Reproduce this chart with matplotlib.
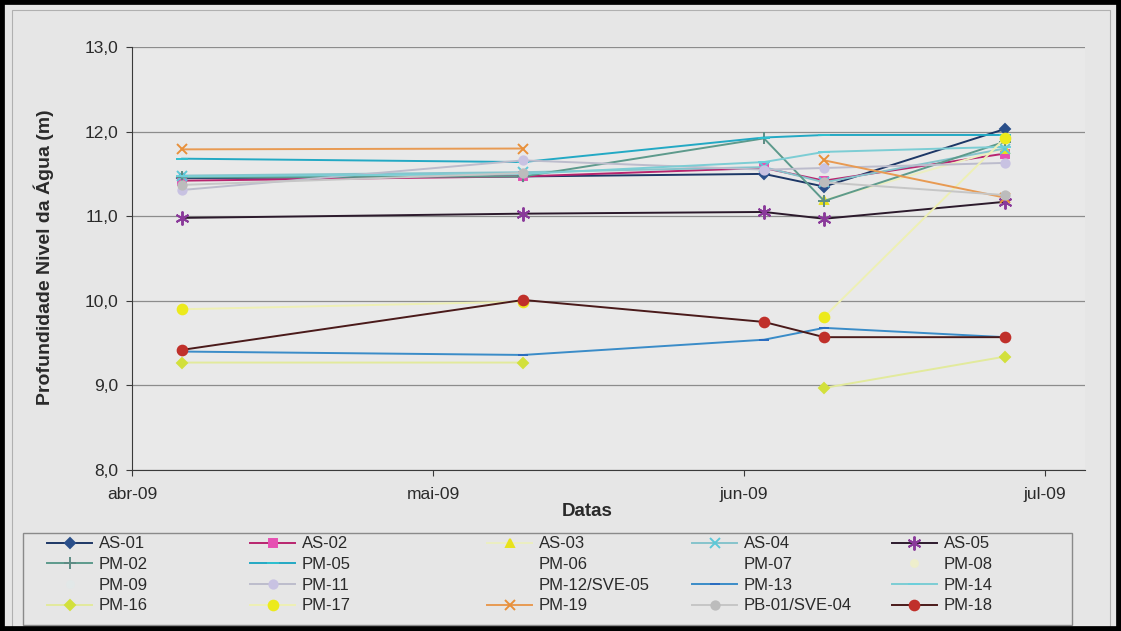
import datetime as dt
import numpy as np
import matplotlib
matplotlib.use("Agg")
import matplotlib.pyplot as plt
from matplotlib.patches import Rectangle

plt.rcParams['font.family'] = ['Liberation Sans', 'DejaVu Sans']

nan = np.nan

# measurement dates
dates = [dt.datetime(2009, 4, 6), dt.datetime(2009, 5, 10), dt.datetime(2009, 6, 3),
         dt.datetime(2009, 6, 9), dt.datetime(2009, 6, 27)]

# water level depth per well (m)
as01 = [11.45, 11.47, 11.50, 11.35, 12.03]
as02 = [11.42, 11.47, 11.57, 11.42, 11.74]
as03 = [nan, nan, nan, 11.19, 11.80]
as04 = [11.48, 11.52, 11.58, 11.40, 11.80]
as05 = [10.98, 11.03, 11.05, 10.97, 11.17]
pm02 = [11.46, 11.47, 11.92, 11.18, 11.88]
pm05 = [11.68, 11.64, 11.93, 11.96, 11.96]
pm06 = [nan, nan, nan, nan, nan]
pm07 = [nan, nan, nan, nan, nan]
pm08 = [nan, nan, nan, nan, nan]
pm09 = [nan, nan, nan, nan, nan]
pm11 = [11.31, 11.66, 11.55, 11.57, 11.63]
pm12 = [nan, nan, nan, nan, nan]
pm13 = [9.40, 9.36, 9.54, 9.68, 9.57]
pm14 = [11.47, 11.50, 11.64, 11.76, 11.82]
pm16 = [9.27, 9.27, nan, 8.97, 9.34]
pm17 = [9.90, 9.99, nan, 9.81, 11.92]
pm19 = [11.79, 11.80, nan, 11.66, 11.22]
pb01 = [11.37, 11.51, nan, 11.40, 11.25]
pm18 = [9.42, 10.01, 9.75, 9.57, 9.57]

month_ticks = [dt.datetime(2009, 4, 1), dt.datetime(2009, 5, 1),
               dt.datetime(2009, 6, 1), dt.datetime(2009, 7, 1)]
month_labels = ["abr-09", "mai-09", "jun-09", "jul-09"]
y_ticks = [8.0, 9.0, 10.0, 11.0, 12.0, 13.0]

bg = "#e6e6e6"
W, H = 1121, 631
fig = plt.figure(figsize=(W / 100, H / 100), dpi=100, facecolor=bg)
ax = fig.add_axes([132 / W, 1 - 470 / H, (1085 - 132) / W, (470 - 47) / H])
ax.set_facecolor("#e9e9e9")

asterisk = (6, 2, 0)
# (label, data, line color, marker, marker face, marker size)
series = [
    ("AS-01", as01, "#1d3766", "D", "#2a4f8a", 5),
    ("AS-02", as02, "#b8246e", "s", "#e64fb2", 6),
    ("AS-03", as03, "#ecefc0", "^", "#e8e21a", 6),
    ("AS-04", as04, "#86c4cc", "x", "#5cc8d8", 7),
    ("AS-05", as05, "#2c1a2c", asterisk, "#8a3a9a", 10),
    ("PM-02", pm02, "#5d9a8c", "+", "#5d8c84", 8),
    ("PM-05", pm05, "#23a9c4", "_", "#2fc0d0", 8),
    ("PM-06", pm06, "none", "None", "none", 6),
    ("PM-07", pm07, "none", "None", "none", 6),
    ("PM-08", pm08, "none", "o", "#eeeecc", 5),
    ("PM-09", pm09, "none", "o", "#e2e8e8", 5),
    ("PM-11", pm11, "#bcbccc", "o", "#c8c2e2", 6),
    ("PM-12/SVE-05", pm12, "none", "None", "none", 6),
    ("PM-13", pm13, "#3a8cc8", "_", "#2a6cc0", 7),
    ("PM-14", pm14, "#7ccdd4", "_", "#6cd0dc", 8),
    ("PM-16", pm16, "#e2ea9c", "D", "#d2e03c", 5),
    ("PM-17", pm17, "#eef0b4", "o", "#ecea1c", 7),
    ("PM-19", pm19, "#e89a52", "x", "#e8903a", 7),
    ("PB-01/SVE-04", pb01, "#c6c6c6", "o", "#bcbcbc", 6),
    ("PM-18", pm18, "#4a1a1a", "o", "#c0302a", 7),
]

handles = {}
for name, vals, lc, mk, mf, ms in series:
    ls = "-" if lc != "none" else "None"
    h, = ax.plot(dates, vals, color=lc if lc != "none" else bg, linestyle=ls,
                 linewidth=1.4, marker=mk, markersize=ms, markerfacecolor=mf,
                 markeredgecolor=mf, markeredgewidth=1.4, label=name)
    handles[name] = h

ax.set_xlim(dt.datetime(2009, 4, 1), dt.datetime(2009, 7, 5))
ax.set_ylim(8.0, 13.0)
ax.set_xticks(month_ticks)
ax.set_xticklabels(month_labels)
ax.set_yticks(y_ticks)
ax.set_yticklabels([f"{v:.1f}".replace(".", ",") for v in y_ticks])
ax.yaxis.grid(True, color="#8c8c8c", linewidth=0.9)
ax.set_axisbelow(True)
for s in ["top", "right"]:
    ax.spines[s].set_visible(False)
ax.spines["left"].set_color("#3a3a3a")
ax.spines["bottom"].set_color("#3a3a3a")
ax.tick_params(axis="both", colors="#3a3a3a", labelsize=12.5, length=4, direction="out")
ax.tick_params(axis="x", pad=8, labelcolor="#2a2a2a")
ax.tick_params(axis="y", pad=6, labelcolor="#2a2a2a")

ax.set_ylabel("Profundidade Nivel da Água (m)", fontsize=14, fontweight="bold", color="#2a2a2a")
ax.yaxis.set_label_coords(-0.082, 0.503)
ax.set_xlabel("Datas", fontsize=13.5, fontweight="bold", color="#2a2a2a")
ax.xaxis.set_label_coords(0.478, -0.078)

# legend: five fixed-width columns like the original
columns = [["AS-01", "PM-02", "PM-09", "PM-16"],
           ["AS-02", "PM-05", "PM-11", "PM-17"],
           ["AS-03", "PM-06", "PM-12/SVE-05", "PM-19"],
           ["AS-04", "PM-07", "PM-13", "PB-01/SVE-04"],
           ["AS-05", "PM-08", "PM-14", "PM-18"]]
text_x = [97, 300, 537, 742, 942]
for col, tx in zip(columns, text_x):
    leg = fig.legend([handles[n] for n in col], col, loc="center left",
                     bbox_to_anchor=((tx - 50) / W, 1 - 575 / H),
                     fontsize=12, frameon=False, handlelength=2.7,
                     handletextpad=0.4, labelspacing=0.34, borderpad=0,
                     borderaxespad=0)
    for t in leg.get_texts():
        t.set_color("#2a2a2a")

fig.patches.append(Rectangle((23 / W, 1 - 625 / H), 1049 / W, 92 / H, transform=fig.transFigure,
                             fill=False, edgecolor="#8a8a8a", linewidth=1.0))
# scanned page frame
fig.patches.append(Rectangle((12 / W, 0), 1098 / W, 1 - 10 / H, transform=fig.transFigure,
                             fill=False, edgecolor="#b0b0b0", linewidth=0.8))
fig.patches.append(Rectangle((0, 0), 1, 1, transform=fig.transFigure,
                             fill=False, edgecolor="black", linewidth=7))

fig.savefig("out.png", dpi=100, facecolor=bg)
